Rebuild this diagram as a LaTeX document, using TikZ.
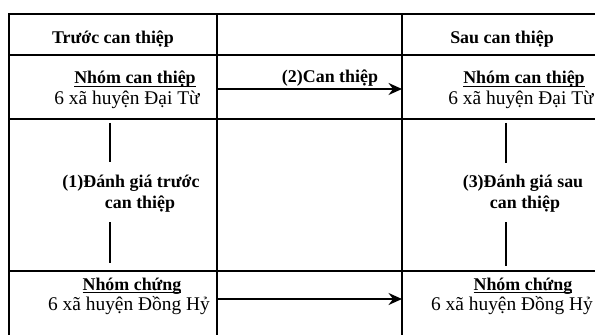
\documentclass[tikz,border=0pt]{standalone}
\usepackage{fontspec}
\setmainfont{Liberation Serif}
\usetikzlibrary{arrows.meta}
\newsavebox{\grpbox}
\newcommand{\grpline}[1]{\sbox{\grpbox}{#1}\rlap{\rule[-2pt]{\wd\grpbox}{0.8pt}}\usebox{\grpbox}}
\begin{document}
\begin{tikzpicture}
        [x=0.67pt,y=0.67pt,
         every node/.style={font=\fontsize{13}{15}\selectfont, inner sep=0pt},
         head/.style={font=\fontsize{12}{14}\selectfont\bfseries},
         rule/.style={line width=1.3pt},
         phase/.style={line width=2pt},
         move/.style={line width=1.6pt,-{Stealth[length=9pt,width=8pt,inset=3pt]}}]
        \useasboundingbox (0,0) rectangle (595,-335);
        % table lines
        \draw[rule] (595,-14) -- (9,-14) -- (9,-335);
        \foreach \y in {55,119,271}
          \draw[rule] (9,-\y) -- (595,-\y);
        \foreach \x in {217,402}
          \draw[rule] (\x,-14) -- (\x,-335);
        % headings
        \node[head, anchor=base] (before) at (113,-44) {Trước can thiệp};
        \node[head, anchor=base] (after) at (502,-44) {Sau can thiệp};
        % groups
        \node[head, anchor=base] (g1) at (135,-84) {\grpline{Nhóm can thiệp}};
        \node[anchor=base] (p1) at (127,-105) {6 xã huyện Đại Từ};
        \node[head, anchor=base] (g2) at (524,-84) {\grpline{Nhóm can thiệp}};
        \node[anchor=base] (p2) at (521,-105) {6 xã huyện Đại Từ};
        \node[head, anchor=base] (g3) at (132,-290) {\grpline{Nhóm chứng}};
        \node[anchor=base] (p3) at (129,-310) {6 xã huyện Đồng Hỷ};
        \node[head, anchor=base] (g4) at (523,-290) {\grpline{Nhóm chứng}};
        \node[anchor=base] (p4) at (512,-310) {6 xã huyện Đồng Hỷ};
        % evaluations
        \node[head, anchor=base] (e1) at (131,-187) {(1)Đánh giá trước};
        \node[head, anchor=base] (e1b) at (140,-208) {can thiệp};
        \node[head, anchor=base] (e3) at (523,-187) {(3)Đánh giá sau};
        \node[head, anchor=base] (e3b) at (525,-208) {can thiệp};
        \coordinate (l1) at (110,-123);
        \coordinate (l2) at (110,-162);
        \coordinate (l3) at (110,-222);
        \coordinate (l4) at (110,-263);
        \coordinate (r1) at (506,-123);
        \coordinate (r2) at (506,-163);
        \coordinate (r3) at (506,-222);
        \coordinate (r4) at (506,-266);
        \draw[phase] (l1) -- (l2);
        \draw[phase] (l3) -- (l4);
        \draw[phase] (r1) -- (r2);
        \draw[phase] (r3) -- (r4);
        % intervention
        \node[head, anchor=base] (act) at (330,-83) {(2)Can thiệp};
        \coordinate (a1) at (217,-89);
        \coordinate (a2) at (402,-89);
        \coordinate (b1) at (217,-299);
        \coordinate (b2) at (402,-299);
        \draw[move] (a1) -- (a2);
        \draw[move] (b1) -- (b2);
\end{tikzpicture}
\end{document}
